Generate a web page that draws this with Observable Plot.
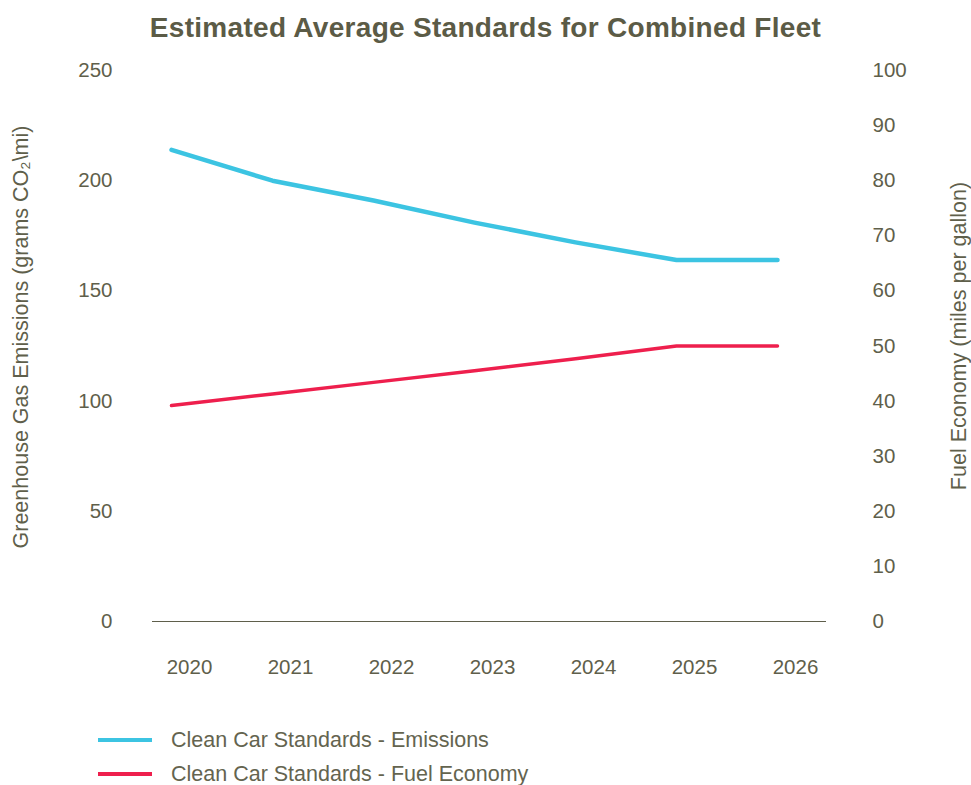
<!DOCTYPE html>
<html>
<head>
<meta charset="utf-8">
<script src="https://cdn.jsdelivr.net/npm/d3@7"></script>
<script src="https://cdn.jsdelivr.net/npm/@observablehq/plot@0.6"></script>
<style>
  body { margin: 0; background: #fff; font-family: "Liberation Sans", Arial, sans-serif; color: #5f5f4b; width: 971px; }
  #title { height: 56px; line-height: 56px; text-align: center; font-size: 28px; font-weight: bold; color: #5b5b46; letter-spacing: 0.3px; }
  #legend { margin-top: 32px; }
  .row { display: flex; align-items: center; height: 34px; font-size: 21.5px; color: #64644f; }
  .sw { margin-left: 98px; width: 54px; height: 4px; margin-right: 19px; }
</style>
</head>
<body>
<div id="title">Estimated Average Standards for Combined Fleet</div>
<div id="chart"></div>
<div id="legend"></div>
<script>
const years = [2020, 2021, 2022, 2023, 2024, 2025, 2026];
const emissions = [214, 200, 191, 181, 172, 164, 164];          // grams CO2/mi (left axis)
const fuelEconomy = [39.2, 41.3, 43.4, 45.5, 47.7, 50.0, 50.0];   // mpg (right axis)
const leftTicks = [0, 50, 100, 150, 200, 250];
const rightTicks = [0, 10, 20, 30, 40, 50, 60, 70, 80, 90, 100];
const seriesNames = ["Clean Car Standards - Emissions", "Clean Car Standards - Fuel Economy"];
const seriesColors = ["#3cc4e2", "#ee1f4d"];
const leftTitle = "Greenhouse Gas Emissions (grams CO\u2082\\mi)";
const rightTitle = "Fuel Economy (miles per gallon)";
const leftMax = 250, rightMax = 100;
const k = leftMax / rightMax; // right-axis value -> left-axis scale

const emData = years.map((y, i) => ({year: y, value: emissions[i]}));
const feData = years.map((y, i) => ({year: y, value: fuelEconomy[i]}));

const textColor = "#5f5f4b";

const chart = Plot.plot({
  width: 971,
  height: 635,
  marginTop: 14,
  marginBottom: 70,
  marginLeft: 152,
  marginRight: 145,
  style: {fontFamily: "'Liberation Sans', Arial, sans-serif", fontSize: "20.5px", color: textColor, background: "#fff"},
  x: {type: "point", domain: years, range: [170, 778], padding: 0},
  y: {domain: [0, leftMax]},
  marks: [
    Plot.ruleY([0], {stroke: "#5f5f4b", strokeWidth: 1}),
    Plot.axisX(years, {anchor: "bottom", tickSize: 0, tickPadding: 38, dx: 18, tickFormat: d => String(d), label: null}),
    Plot.axisY(leftTicks, {anchor: "left", tickSize: 0, tickPadding: 40, label: null}),
    Plot.axisY(rightTicks.map(v => v * k), {anchor: "right", tickSize: 0, tickPadding: 46,
      tickFormat: d => String(Math.round(d / k)), label: null}),
    Plot.text([leftTitle], {frameAnchor: "left", text: d => d, rotate: -90, dx: -131, dy: -9,
      fontSize: 21.5, textAnchor: "middle", lineAnchor: "middle", fill: textColor}),
    Plot.text([rightTitle], {frameAnchor: "right", text: d => d, rotate: -90, dx: 133, dy: -10,
      fontSize: 21.5, textAnchor: "middle", lineAnchor: "middle", fill: textColor}),
    Plot.line(emData, {x: "year", y: "value", stroke: seriesColors[0], strokeWidth: 4.5}),
    Plot.line(feData, {x: "year", y: d => d.value * k, stroke: seriesColors[1], strokeWidth: 3.5})
  ]
});
document.getElementById("chart").appendChild(chart);

const legend = document.getElementById("legend");
seriesNames.forEach((name, i) => {
  const row = document.createElement("div");
  row.className = "row";
  const sw = document.createElement("div");
  sw.className = "sw";
  sw.style.background = seriesColors[i];
  const t = document.createElement("span");
  t.textContent = name;
  row.appendChild(sw);
  row.appendChild(t);
  legend.appendChild(row);
});
</script>
</body>
</html>
